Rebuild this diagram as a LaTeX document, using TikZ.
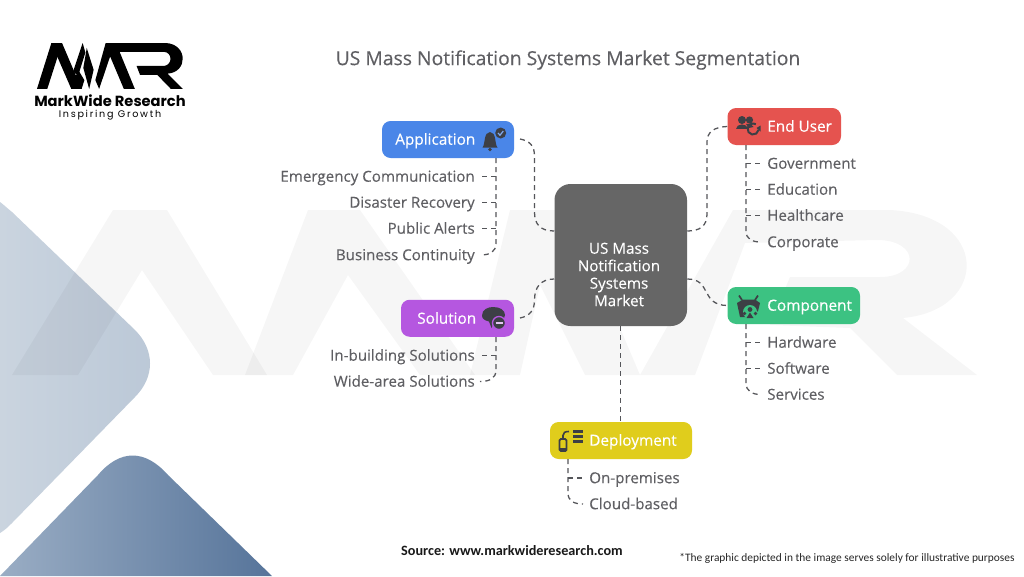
\documentclass[tikz,border=0pt]{standalone}
\usepackage{fontspec}
\setmainfont{Open Sans}
\newfontfamily\medfont[FakeBold=0.2]{Open Sans}
\newfontfamily\boxfont[FakeBold=0.35]{Open Sans}
\newfontfamily\logofont{Poppins}
\newfontfamily\notefont{Carlito}
\usetikzlibrary{calc}
\definecolor{txt}{HTML}{5F5F63}
\definecolor{ico}{HTML}{3D3F45}
\definecolor{conn}{HTML}{55565A}
\definecolor{appc}{HTML}{4A86E8}
\definecolor{userc}{HTML}{E5534F}
\definecolor{compc}{HTML}{3CC282}
\definecolor{solc}{HTML}{B557E0}
\definecolor{depc}{HTML}{E0CD1C}
\definecolor{hubc}{HTML}{666666}
\definecolor{bga}{HTML}{CAD4DF}
\definecolor{bgb}{HTML}{BBC8D7}
\definecolor{bgc}{HTML}{9AADC4}
\definecolor{bgd}{HTML}{56749A}
\tikzset{
  x=0.75pt,y=-0.75pt,
  box/.style={rounded corners=6.5pt,inner sep=0pt},
  boxlabel/.style={inner sep=0pt,text=white,font=\boxfont\fontsize{11.5}{13}\selectfont,text height=9.4pt,text depth=1.6pt},
  leaf/.style={inner sep=0pt,text=txt,font=\medfont\fontsize{11.35}{13}\selectfont,text height=9.4pt,text depth=1.6pt},
  link/.style={draw=conn,line width=0.95pt,dash pattern=on 3.75pt off 3pt},
  icon/.style={fill=ico,draw=none},
  wm/.style={fill=black,fill opacity=0.035,draw=none},
}
\begin{document}
\begin{tikzpicture}
\useasboundingbox (0,0) rectangle (1024,576);
\fill[white] (0,0) rectangle (1024,576);
% background shapes
\shade[left color=bga,right color=bgb] (0,202) -- (0,533) .. controls (5,530) and (8,527) .. (12,523) -- (135,397) .. controls (155,377) and (155,350) .. (135,330) -- (12,212) .. controls (7,208) and (4,205) .. (0,202) -- cycle;
\shade[left color=bgc,right color=bgd] (0,576) -- (98,475) .. controls (120,449) and (145,449) .. (168,475) -- (272,576) -- cycle;
% watermark
\fill[wm] (12,375) -- (113,210) -- (167,210) -- (267,375) -- (213,375) -- (142,270) -- (78,375) -- cycle;
\fill[wm] (245,375) -- (308,210) -- (360,210) -- (475,375) -- (420,375) -- (348,275) -- (293,375) -- cycle;
\fill[wm] (470,375) -- (510,210) -- (570,210) -- (640,375) -- (585,375) -- (540,285) -- (520,375) -- cycle;
\fill[wm] (640,375) -- (733,210) -- (890,210) .. controls (990,215) and (990,310) .. (903,318) -- (977,375) -- (897,375) -- (850,328) -- (770,325) -- (790,277) -- (880,277) .. controls (920,277) and (920,240) .. (877,240) -- (745,243) -- (695,375) -- cycle;
% logo
\begin{scope}[shift={(21.5,37.25)},xscale=0.3435,yscale=0.383]
\fill[black] (45,135) -- (87,15) -- (118,15) -- (75,135) -- cycle;
\fill[black] (87,15) -- (118,15) -- (175,135) -- (145,135) -- cycle;
\fill[black] (145,135) -- (175,135) -- (183,112) -- (165,85) -- cycle;
\fill[black] (150,90) -- (178,15) -- (186,40) -- (165,100) -- cycle;
\fill[black] (190,28) -- (210,85) -- (197,135) -- (180,80) -- cycle;
\fill[black] (215,112) -- (245,15) -- (275,15) -- (330,135) -- (298,135) -- (258,50) -- (226,135) -- cycle;
\fill[black] (262,15) -- (420,15) .. controls (485,18) and (485,92) .. (425,95) -- (470,135) -- (435,135) -- (395,98) -- (345,98) -- (335,75) -- (415,75) .. controls (440,72) and (440,40) .. (415,38) -- (275,38) -- cycle;
\end{scope}
\node[inner sep=0pt,font=\logofont\bfseries\fontsize{11}{12}\selectfont] (brand) at (110,101) {MarkWide Research};
\node[inner sep=0pt,font=\logofont\fontsize{7.2}{9}\selectfont,text=black] (tag) at (110,115) {\addfontfeature{LetterSpace=18}Inspiring Growth};
% title
\node[inner sep=0pt,text=txt,font=\medfont\fontsize{14.5}{17}\selectfont] (title) at (568,60) {US Mass Notification Systems Market Segmentation};
% main nodes
\node[box,fill=hubc,rounded corners=12pt,minimum width=132.5*0.75pt,minimum height=142*0.75pt] (hub) at (620.75,255) {};
\node[inner sep=0pt,text=white,align=center,font=\medfont\fontsize{11.4}{13.1}\selectfont] (hubt) at (619,274.5) {US Mass\\Notification\\Systems\\Market};
\node[box,fill=appc,minimum width=132*0.75pt,minimum height=37*0.75pt] (app) at (448,139.5) {};
\node[box,fill=userc,minimum width=113.5*0.75pt,minimum height=37*0.75pt] (user) at (784.25,126.5) {};
\node[box,fill=compc,minimum width=132.5*0.75pt,minimum height=37*0.75pt] (comp) at (793.75,305.5) {};
\node[box,fill=solc,minimum width=113*0.75pt,minimum height=37*0.75pt] (sol) at (457.5,318.25) {};
\node[box,fill=depc,minimum width=142*0.75pt,minimum height=37*0.75pt] (dep) at (621,440.5) {};
\node[boxlabel,anchor=west] (appt) at (395,139.5) {Application};
\node[boxlabel,anchor=west] (usert) at (767,126.5) {End User};
\node[boxlabel,anchor=west] (compt) at (767,305.5) {Component};
\node[boxlabel,anchor=west] (solt) at (417,318.5) {Solution};
\node[boxlabel,anchor=west] (dept) at (589,440.5) {Deployment};
% leaves
\foreach \n/\t/\y in {a1/Emergency Communication/176.5,a2/Disaster Recovery/202.5,a3/Public Alerts/228.5,a4/Business Continuity/255}
  \node[leaf,anchor=east] (\n) at (475,\y) {\t};
\foreach \n/\t/\y in {s1/In-building Solutions/355.5,s2/Wide-area Solutions/381.5}
  \node[leaf,anchor=east] (\n) at (475,\y) {\t};
\foreach \n/\t/\y in {u1/Government/163.5,u2/Education/189.5,u3/Healthcare/215.5,u4/Corporate/242}
  \node[leaf,anchor=west] (\n) at (767,\y) {\t};
\foreach \n/\t/\y in {c1/Hardware/342.5,c2/Software/368.5,c3/Services/394.5}
  \node[leaf,anchor=west] (\n) at (767,\y) {\t};
\foreach \n/\t/\y in {d1/On-premises/478,d2/Cloud-based/504}
  \node[leaf,anchor=west] (\n) at (589,\y) {\t};
% connectors hub to groups
\coordinate (hubal) at (hub.west |- 0,231);
\coordinate (hubsl) at (hub.west |- 0,279);
\coordinate (hubur) at (hub.east |- 0,231);
\coordinate (hubcr) at (hub.east |- 0,279);
\draw[link] (520,139) .. controls (530,141) and (534.5,146) .. (534.5,156) -- (534.5,212) .. controls (534.5,224) and (540,231) .. (hubal);
\draw[link] (520,318) .. controls (530,316) and (534.5,310) .. (534.5,300) .. controls (534.5,288) and (540,279) .. (hubsl);
\draw[link] (user.west) .. controls (714,127) and (707,132) .. (707,142) -- (707,214) .. controls (707,226) and (700,231) .. (hubur);
\draw[link] (hubcr) .. controls (712,279) and (700,305) .. (comp.west);
\draw[link] (hub.south -| 620.5,0) -- (dep.north -| 620.5,0);
% trunks
\draw[link] (496,158) -- (496,243) .. controls (496,252) and (490,255) .. (480,255);
\foreach \y in {176.5,202.5,228.5} \draw[link] (482,\y) -- (496,\y);
\draw[link] (496,337) -- (496,370) .. controls (496,378) and (490,381.5) .. (480,381.5);
\draw[link] (482,355.5) -- (496,355.5);
\draw[link] (746,145) -- (746,231) .. controls (746,239) and (752,242) .. (761,242);
\foreach \y in {163.5,189.5,215.5} \draw[link] (746,\y) -- (760,\y);
\draw[link] (746,324) -- (746,383) .. controls (746,391) and (752,394.5) .. (761,394.5);
\foreach \y in {342.5,368.5} \draw[link] (746,\y) -- (760,\y);
\draw[link] (568,459) -- (568,493) .. controls (568,501) and (574,504) .. (583,504);
\draw[link] (568,478) -- (582,478);
% icon: bell with check
\fill[icon] (482.5,147.5) .. controls (485.5,144) and (483.5,132) .. (490,132) .. controls (496.5,132) and (494.5,144) .. (497.5,147.5) -- cycle;
\fill[icon] (490,149.5) circle (1.8);
\fill[icon] (500.7,133) circle (5.5);
\draw[appc!70!white,line width=0.9pt] (498,133) -- (500,135.2) -- (503.3,131);
% icon: users and refresh
\fill[icon] (742,120) circle (4);
\fill[icon] (749.5,120) circle (3.6);
\fill[icon] (736,129) .. controls (736,122.5) and (748,122.5) .. (748,129) -- cycle;
\fill[icon] (746,124) .. controls (750,123.5) and (753,124.5) .. (753.5,127) -- (749,128) -- cycle;
\draw[ico,line width=1.5pt] (758.5,130) arc[start angle=10,end angle=300,radius=5.5];
\fill[icon] (756.5,128) -- (760.5,125.5) -- (760.5,131.5) -- cycle;
% icon: component
\fill[icon] (737,303) -- (743,299.5) -- (755,299.5) -- (760,303) -- (758,311) -- (750,317) -- (740,317) -- cycle;
\draw[ico,line width=1.3pt] (742,300) -- (739,295.5);
\draw[ico,line width=1.3pt] (755,300) -- (758,295.5);
\fill[compc] (750,312) circle (7);
\fill[icon] (750,309.5) circle (2.4);
\fill[icon] (744.5,313.5) circle (1.8);
\fill[icon] (755.5,313.5) circle (1.8);
\fill[icon] (746.5,318) -- (753.5,318) -- (750,312.5) -- cycle;
% icon: solution
\fill[icon] (482,315.5) .. controls (482,309.5) and (488,307) .. (493,307) .. controls (500,307) and (505,310) .. (505,315) .. controls (505,321) and (498,322) .. (494,322) -- (491.5,328) -- (489,321.5) .. controls (485,320.5) and (482,319) .. (482,315.5) -- cycle;
\draw[solc,line width=1pt,fill=ico] (499,323) circle (6.5);
\draw[solc!35!white,line width=1.1pt] (495.5,323) -- (502.5,323);
% icon: deployment
\draw[ico,line width=1.4pt,rounded corners=1pt] (559.5,439) rectangle (566.5,451);
\fill[icon] (559.5,447.5) rectangle (566.5,451);
\draw[ico,line width=1.2pt] (563,438) -- (563,435.5) .. controls (563,432.5) and (565,431.5) .. (569,431.5);
\fill[icon] (573,430) rectangle (583,433.3);
\fill[icon] (573,434.8) rectangle (583,438.1);
\fill[icon] (573,439.5) rectangle (583,442.8);
% footer
\node[inner sep=0pt,font=\notefont\bfseries\fontsize{10.66}{12}\selectfont,text=black!90] (src) at (512,551) {Source: www.markwideresearch.com};
\node[inner sep=0pt,font=\notefont\fontsize{8.55}{10}\selectfont,text=black!85] (note) at (847,558) {*The graphic depicted in the image serves solely for illustrative purposes};
\end{tikzpicture}
\end{document}
